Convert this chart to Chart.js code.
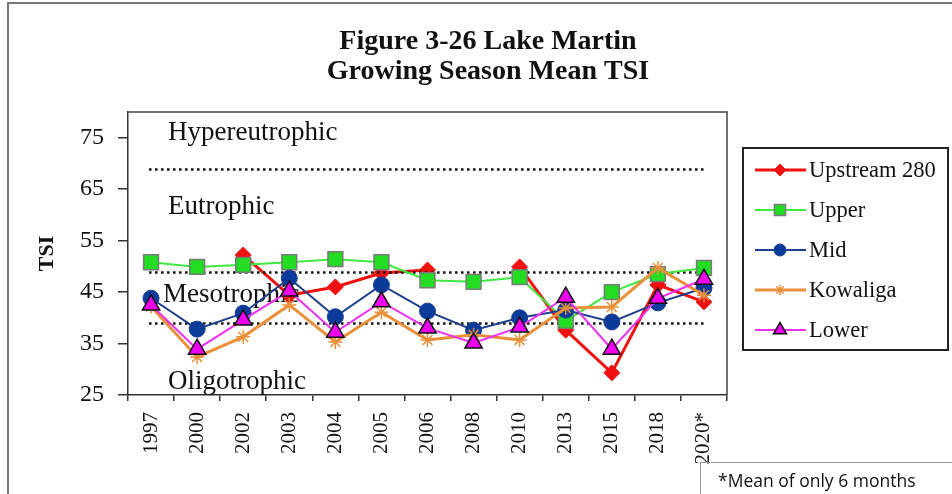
<!DOCTYPE html>
<html>
<head>
<meta charset="utf-8">
<script src="https://cdn.jsdelivr.net/npm/chart.js@4.4.0/dist/chart.umd.min.js"></script>
<style>
  body { margin: 0; background: #fff; overflow: hidden; }
  #wrap { position: relative; width: 952px; height: 494px; }
  #frame { position: absolute; left: 7px; top: 2px; width: 1000px; height: 600px;
           border-left: 2px solid #777; border-top: 2px solid #777; }
  #note { position: absolute; left: 700px; top: 462px; width: 300px; height: 60px;
          border: 1px solid #999; font: 17.5px "Open Sans", sans-serif; color: #111;
          padding: 5px 0 0 17px; box-sizing: border-box; }
  canvas { position: absolute; left: 0; top: 0; }
</style>
</head>
<body>
<div id="wrap">
  <div id="frame"></div>
  <canvas id="tsi" width="952" height="494"></canvas>
  <div id="note">*Mean of only 6 months</div>
</div>
<script>
// data
const years = ['1997', '2000', '2002', '2003', '2004', '2005', '2006', '2008', '2010', '2013', '2015', '2018', '2020*'];
const upstream280 = [null, null, 52.2, 44.4, 46.0, 48.7, 49.3, null, 49.9, 37.6, 29.3, 46.4, 43.1];
const upper = [50.8, 49.9, 50.3, 50.8, 51.4, 50.8, 47.3, 47.0, 47.9, 39.4, 45.0, 48.5, 49.7];
const mid = [43.8, 37.8, 40.9, 47.7, 40.2, 46.4, 41.3, 37.6, 40.0, 41.5, 39.2, 42.9, 45.8];
const kowaliga = [42.2, 32.4, 36.3, 42.5, 35.3, 41.1, 35.7, 36.7, 35.7, 41.9, 42.1, 49.7, 44.4];
const lower = [42.5, 33.9, 39.6, 45.2, 37.2, 43.1, 38.0, 35.1, 38.2, 44.0, 33.9, 43.8, 47.5];

const yTicks = [25, 35, 45, 55, 65, 75];
const boundaries = [69, 49, 39];
const zoneNames = ['Hypereutrophic', 'Eutrophic', 'Mesotrophic', 'Oligotrophic'];
const zoneLevels = [75.9, 61.5, 44.4, 27.5];
const zoneIndent = [40, 40, 35, 40];

const serif = '"Liberation Serif", "Times New Roman", serif';

const datasets = [
  { label: 'Upstream 280', data: upstream280, borderColor: '#f01010', backgroundColor: '#f01010',
    borderWidth: 3, pointStyle: 'rectRot', pointRadius: 8, pointBorderWidth: 1, order: 4 },
  { label: 'Upper', data: upper, borderColor: '#3fe83f', backgroundColor: '#22dd22',
    pointBorderColor: '#7a7a7a', borderWidth: 2, pointStyle: 'rect', pointRadius: 10.5, pointBorderWidth: 1.5, order: 3 },
  { label: 'Mid', data: mid, borderColor: '#1d3f8c', backgroundColor: '#0a3a9a',
    borderWidth: 2, pointStyle: 'circle', pointRadius: 8, pointBorderWidth: 1, order: 2 },
  { label: 'Kowaliga', data: kowaliga, borderColor: '#e8903a', backgroundColor: '#e8903a',
    borderWidth: 3, pointStyle: 'star', pointRadius: 7, pointBorderWidth: 1.5, order: 1 },
  { label: 'Lower', data: lower, borderColor: '#f030f0', backgroundColor: '#ee00ee',
    pointBorderColor: '#111', borderWidth: 2, pointStyle: 'triangle', pointRadius: 10, pointBorderWidth: 1.5, order: 0 }
];
datasets.forEach(d => { d.fill = false; d.tension = 0; d.spanGaps = false; d.pointHoverRadius = d.pointRadius; });

// frame, dotted boundaries, zone names, title, legend
const decor = {
  id: 'decor',
  beforeDatasetsDraw(chart) {
    const { ctx, chartArea: a, scales: { x, y } } = chart;
    ctx.save();
    ctx.fillStyle = '#111';
    ctx.font = '27px ' + serif;
    ctx.textBaseline = 'middle';
    ctx.textAlign = 'left';
    zoneNames.forEach((n, i) => ctx.fillText(n, a.left + zoneIndent[i], y.getPixelForValue(zoneLevels[i])));
    ctx.restore();
  },
  afterDatasetDraw(chart, args) {
    // dotted class boundaries sit above the first series, as in the original
    if (args.index !== 0) return;
    const { ctx, scales: { x, y } } = chart;
    ctx.save();
    ctx.strokeStyle = '#111';
    ctx.lineWidth = 2.5;
    ctx.setLineDash([2.5, 3.5]);
    const x0 = x.getPixelForValue(0) - 2, x1 = x.getPixelForValue(years.length - 1) + 2;
    boundaries.forEach(v => {
      const py = Math.round(y.getPixelForValue(v)) + 0.5;
      ctx.beginPath(); ctx.moveTo(x0, py); ctx.lineTo(x1, py); ctx.stroke();
    });
    ctx.restore();
  },
  afterDraw(chart) {
    const { ctx, chartArea: a } = chart;
    ctx.save();
    ctx.strokeStyle = '#444';
    ctx.lineWidth = 1.5;
    ctx.beginPath();
    ctx.moveTo(a.left, a.top); ctx.lineTo(a.right, a.top); ctx.lineTo(a.right, a.bottom);
    ctx.stroke();

    ctx.fillStyle = '#111';
    ctx.font = 'bold 28px ' + serif;
    ctx.textAlign = 'center';
    ctx.textBaseline = 'middle';
    ctx.fillText('Figure 3-26 Lake Martin', 488, 42);
    ctx.fillText('Growing Season Mean TSI', 488, 72);

    // legend box
    ctx.strokeStyle = '#222';
    ctx.lineWidth = 2;
    ctx.strokeRect(743, 148, 205, 202);
    ctx.font = '22.5px ' + serif;
    ctx.textAlign = 'left';
    chart.data.datasets.forEach((d, i) => {
      const ly = 170 + i * 40;
      ctx.strokeStyle = d.borderColor;
      ctx.lineWidth = d.borderWidth;
      ctx.beginPath(); ctx.moveTo(755, ly); ctx.lineTo(806, ly); ctx.stroke();
      ctx.fillStyle = d.backgroundColor;
      ctx.strokeStyle = d.pointBorderColor || d.borderColor;
      ctx.lineWidth = d.pointBorderWidth;
      if (Chart.helpers && Chart.helpers.drawPoint) {
        Chart.helpers.drawPoint(ctx, { pointStyle: d.pointStyle, radius: d.pointRadius * 0.75,
          rotation: 0, borderWidth: d.pointBorderWidth }, 780, ly);
      }
      ctx.fillStyle = '#111';
      ctx.fillText(d.label, 809, ly + 1);
    });
    ctx.restore();
  }
};

new Chart(document.getElementById('tsi'), {
  type: 'line',
  data: { labels: years, datasets },
  plugins: [decor],
  options: {
    responsive: false,
    animation: false,
    devicePixelRatio: 1,
    layout: { padding: { top: 112, right: 225, left: 34, bottom: 0 } },
    plugins: { legend: { display: false }, tooltip: { enabled: false }, title: { display: false } },
    scales: {
      x: {
        type: 'category',
        offset: true,
        afterFit(s) { s.height = 99; },
        grid: { offset: true, drawOnChartArea: false, drawTicks: true, tickLength: 6, color: '#333', lineWidth: 1.5 },
        border: { display: true, color: '#333', width: 1.5 },
        ticks: { minRotation: 90, maxRotation: 90, autoSkip: false, padding: 11, color: '#111',
                 font: { family: serif, size: 21 } }
      },
      y: {
        min: 25,
        max: 80,
        afterFit(s) { s.width = 94; },
        afterBuildTicks(s) { s.ticks = yTicks.map(v => ({ value: v })); },
        grid: { drawOnChartArea: false, drawTicks: true, tickLength: 10, color: '#333', lineWidth: 1.5 },
        border: { display: true, color: '#333', width: 1.5 },
        ticks: { padding: 14, color: '#111', font: { family: serif, size: 24 } },
        title: { display: true, text: 'TSI', color: '#111', padding: 0,
                 font: { family: serif, size: 22, weight: 'bold' } }
      }
    }
  }
});
</script>
</body>
</html>
